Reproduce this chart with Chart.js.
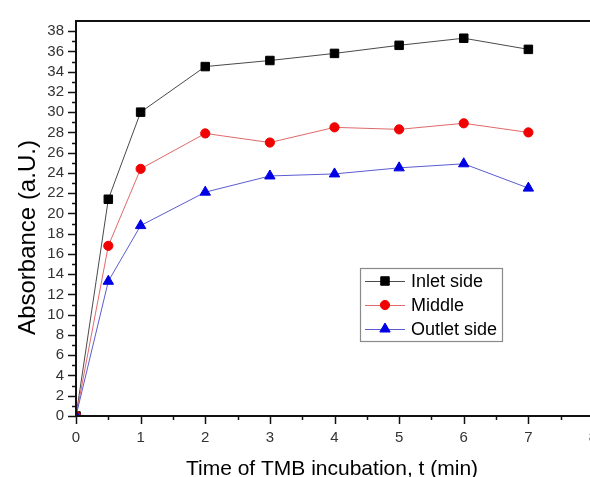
<!DOCTYPE html>
<html>
<head>
<meta charset="utf-8">
<script src="https://cdn.jsdelivr.net/npm/chart.js@4.4.0/dist/chart.umd.min.js"></script>
<style>
html, body { margin:0; padding:0; background:#fff; overflow:hidden; }
#wrap { width:590px; height:477px; overflow:hidden; position:relative; }
#wrap canvas { position:absolute; left:0; top:0; }
</style>
</head>
<body>
<div id="wrap"><canvas id="chart" width="600" height="477"></canvas></div>
<script>
// ==========================================
// 1. DATA
// ==========================================
var times = [0, 0.5, 1, 2, 3, 4, 5, 6, 7];
var inletSide = [0, 21.4, 30.0, 34.5, 35.1, 35.8, 36.6, 37.3, 36.2];
var middle = [0, 16.8, 24.4, 27.9, 27.0, 28.5, 28.3, 28.9, 28.0];
var outletSide = [0, 13.3, 18.8, 22.1, 23.7, 23.9, 24.5, 24.9, 22.5];
var seriesNames = ["Inlet side", "Middle", "Outlet side"];

// labelled ticks
var xTickLabels = [0, 1, 2, 3, 4, 5, 6, 7, 8];
var yTickLabels = [0, 2, 4, 6, 8, 10, 12, 14, 16, 18, 20, 22, 24, 26, 28, 30, 32, 34, 36, 38];

var xTitle = "Time of TMB incubation, t (min)";
var yTitle = "Absorbance (a.U.)";

var fontFamily = "'Liberation Sans', Arial, Helvetica, sans-serif";

function toPoints(ys) {
    return times.map(function (t, i) { return { x: t, y: ys[i] }; });
}

// ==========================================
// 2. PLUGINS: axes, ticks, titles, legend
// ==========================================
var axesPlugin = {
    id: 'axesPlugin',
    afterDraw: function (chart) {
        var ctx = chart.ctx;
        var a = chart.chartArea;
        var xs = chart.scales.x;
        var ys = chart.scales.y;

        ctx.save();
        ctx.strokeStyle = '#111';
        ctx.lineWidth = 1.5;

        // y ticks (major on labelled values, minor otherwise)
        ys.ticks.forEach(function (t) {
            if (t.value >= ys.max) return;
            var py = Math.round(ys.getPixelForValue(t.value)) + 0.5;
            var len = yTickLabels.indexOf(t.value) >= 0 ? 8 : 4;
            ctx.beginPath();
            ctx.moveTo(a.left - len, py);
            ctx.lineTo(a.left, py);
            ctx.stroke();
        });

        // x ticks
        xs.ticks.forEach(function (t) {
            var px = Math.round(xs.getPixelForValue(t.value)) + 0.5;
            var len = xTickLabels.indexOf(t.value) >= 0 ? 8 : 4;
            ctx.beginPath();
            ctx.moveTo(px, a.bottom);
            ctx.lineTo(px, a.bottom + len);
            ctx.stroke();
        });

        // x tick labels (drawn here so the scale adds no side padding)
        ctx.fillStyle = '#333';
        ctx.font = '15px ' + fontFamily;
        ctx.textAlign = 'center';
        ctx.textBaseline = 'middle';
        xTickLabels.forEach(function (v) {
            ctx.fillText(String(v), xs.getPixelForValue(v), a.bottom + 22);
        });

        // frame
        ctx.lineWidth = 2;
        ctx.strokeStyle = '#111';
        ctx.beginPath();
        ctx.moveTo(a.left, a.bottom);
        ctx.lineTo(a.left, a.top);
        ctx.lineTo(a.right, a.top);
        ctx.lineTo(a.right, a.bottom);
        ctx.closePath();
        ctx.stroke();

        // axis titles
        ctx.fillStyle = '#000';
        ctx.textAlign = 'center';
        ctx.textBaseline = 'alphabetic';
        ctx.font = '21px ' + fontFamily;
        ctx.fillText(xTitle, 332, 475);

        ctx.translate(34.5, 237.5);
        ctx.rotate(-Math.PI / 2);
        ctx.font = '24px ' + fontFamily;
        ctx.fillText(yTitle, 0, 0);
        ctx.restore();
    }
};

var legendPlugin = {
    id: 'legendPlugin',
    afterDraw: function (chart) {
        var ctx = chart.ctx;
        var box = { left: 360.5, top: 268.5, width: 142, height: 73 };

        ctx.save();
        ctx.fillStyle = '#fff';
        ctx.fillRect(box.left, box.top, box.width, box.height);
        ctx.strokeStyle = '#8a8a8a';
        ctx.lineWidth = 1.2;
        ctx.strokeRect(box.left, box.top, box.width, box.height);

        chart.data.datasets.forEach(function (ds, i) {
            var cy = 281 + i * 24;
            ctx.strokeStyle = ds.borderColor;
            ctx.lineWidth = 1;
            ctx.beginPath();
            ctx.moveTo(365, cy + 0.5);
            ctx.lineTo(405, cy + 0.5);
            ctx.stroke();

            ctx.fillStyle = ds.pointBackgroundColor;
            ctx.strokeStyle = ds.pointBorderColor;
            Chart.helpers.drawPoint(ctx, {
                pointStyle: ds.pointStyle,
                radius: ds.pointRadius,
                rotation: 0,
                borderWidth: 1
            }, 385, cy);

            ctx.fillStyle = '#000';
            ctx.font = '18px ' + fontFamily;
            ctx.textAlign = 'left';
            ctx.textBaseline = 'middle';
            ctx.fillText(ds.label, 411, cy + 1);
        });
        ctx.restore();
    }
};

var whiteBg = {
    id: 'whiteBg',
    beforeDraw: function (chart) {
        var ctx = chart.ctx;
        ctx.save();
        ctx.fillStyle = '#fff';
        ctx.fillRect(0, 0, chart.width, chart.height);
        ctx.restore();
    }
};

// ==========================================
// 3. CHART
// ==========================================
var chart = new Chart(document.getElementById('chart'), {
    type: 'line',
    data: {
        datasets: [{
            label: seriesNames[0],
            data: toPoints(inletSide),
            borderColor: '#4a4a4a',
            borderWidth: 1,
            pointStyle: 'rect',
            pointRadius: 6,
            pointBackgroundColor: '#000',
            pointBorderColor: '#000',
            pointBorderWidth: 1,
            order: 3,
            clip: 0
        }, {
            label: seriesNames[1],
            data: toPoints(middle),
            borderColor: '#e06a6a',
            borderWidth: 1,
            pointStyle: 'circle',
            pointRadius: 4.6,
            pointBackgroundColor: '#f00000',
            pointBorderColor: '#f00000',
            pointBorderWidth: 1,
            order: 2,
            clip: 0
        }, {
            label: seriesNames[2],
            data: toPoints(outletSide),
            borderColor: '#5c5cd0',
            borderWidth: 1,
            pointStyle: 'triangle',
            pointRadius: 6,
            pointBackgroundColor: '#0000e6',
            pointBorderColor: '#0000e6',
            pointBorderWidth: 1,
            order: 1,
            clip: 0
        }]
    },
    options: {
        responsive: false,
        animation: false,
        devicePixelRatio: 1,
        layout: {
            padding: { top: 17, right: 6, left: 0, bottom: 0 }
        },
        plugins: {
            legend: { display: false },
            tooltip: { enabled: false }
        },
        elements: {
            line: { tension: 0 }
        },
        scales: {
            x: {
                type: 'linear',
                min: 0,
                max: 8,
                grid: { display: false, drawTicks: false },
                border: { display: false },
                afterFit: function (scale) { scale.height = 61; },
                ticks: {
                    display: false,
                    stepSize: 0.5,
                    autoSkip: false
                }
            },
            y: {
                min: 0,
                max: 39,
                grid: { display: false, drawTicks: false },
                border: { display: false },
                afterFit: function (scale) { scale.width = 76; },
                ticks: {
                    stepSize: 1,
                    autoSkip: false,
                    padding: 12,
                    color: '#333',
                    font: { family: fontFamily, size: 15 },
                    callback: function (v) {
                        return yTickLabels.indexOf(v) >= 0 ? String(v) : '';
                    }
                }
            }
        }
    },
    plugins: [whiteBg, axesPlugin, legendPlugin]
});
</script>
</body>
</html>
